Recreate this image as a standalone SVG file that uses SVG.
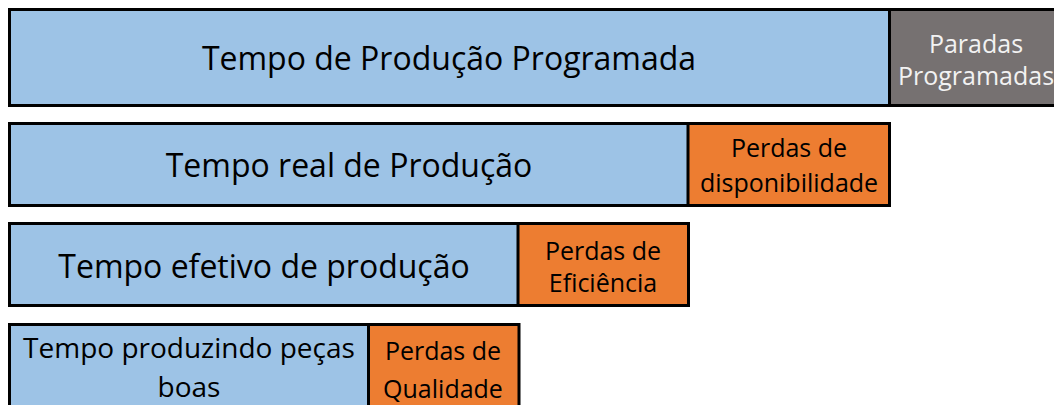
<svg xmlns="http://www.w3.org/2000/svg" width="1054" height="405" viewBox="0 0 1054 405">
  <style>
    .blue { fill: #9DC3E6; }
    .orange { fill: #ED7D31; }
    .gray { fill: #767171; }
    .frame { fill: none; stroke: #000000; stroke-width: 3; }
    .div { stroke: #000000; stroke-width: 3; }
    text { font-family: "Open Sans", "Liberation Sans", sans-serif; text-anchor: middle; fill: #000000; }
    .big { font-size: 32px; }
    .mid { font-size: 28px; }
    .small { font-size: 25px; }
    .light { fill: #F2F2F2; }
  </style>
  <rect width="1054" height="405" fill="#FFFFFF"/>
  <g id="row1">
    <g id="tempo-producao-programada">
      <rect class="blue" x="9.5" y="9.5" width="880" height="96"/>
      <text class="big" x="449" y="70">Tempo de Produção Programada</text>
    </g>
    <g id="paradas-programadas">
      <rect class="gray" x="889.5" y="9.5" width="175" height="96"/>
      <text class="small light" x="976" y="53">Paradas</text>
      <text class="small light" x="976" y="85">Programadas</text>
    </g>
    <rect class="frame" x="9.5" y="9.5" width="1060" height="96"/>
    <line class="div" x1="889.5" y1="9.5" x2="889.5" y2="105.5"/>
  </g>
  <g id="row2">
    <g id="tempo-real">
      <rect class="blue" x="9.5" y="123.5" width="678.5" height="82"/>
      <text class="big" x="349" y="177">Tempo real de Produção</text>
    </g>
    <g id="perdas-disponibilidade">
      <rect class="orange" x="688" y="123.5" width="201.5" height="82"/>
      <text class="small" x="789" y="157">Perdas de</text>
      <text class="small" x="789" y="192">disponibilidade</text>
    </g>
    <rect class="frame" x="9.5" y="123.5" width="880" height="82"/>
    <line class="div" x1="688" y1="123.5" x2="688" y2="205.5"/>
  </g>
  <g id="row3">
    <g id="tempo-efetivo">
      <rect class="blue" x="9.5" y="223.5" width="508.5" height="82"/>
      <text class="big" x="264" y="278">Tempo efetivo de produção</text>
    </g>
    <g id="perdas-eficiencia">
      <rect class="orange" x="518" y="223.5" width="170.5" height="82"/>
      <text class="small" x="603" y="260">Perdas de</text>
      <text class="small" x="603" y="292">Eficiência</text>
    </g>
    <rect class="frame" x="9.5" y="223.5" width="679" height="82"/>
    <line class="div" x1="518" y1="223.5" x2="518" y2="305.5"/>
  </g>
  <g id="row4">
    <g id="tempo-pecas-boas">
      <rect class="blue" x="9.5" y="324.5" width="359" height="100"/>
      <text class="mid" x="189" y="358">Tempo produzindo peças</text>
      <text class="mid" x="189" y="397">boas</text>
    </g>
    <g id="perdas-qualidade">
      <rect class="orange" x="368.5" y="324.5" width="150.5" height="100"/>
      <text class="small" x="443" y="360">Perdas de</text>
      <text class="small" x="443" y="398">Qualidade</text>
    </g>
    <rect class="frame" x="9.5" y="324.5" width="509.5" height="100"/>
    <line class="div" x1="368.5" y1="324.5" x2="368.5" y2="424.5"/>
  </g>
  <g id="connectors"/>
</svg>
